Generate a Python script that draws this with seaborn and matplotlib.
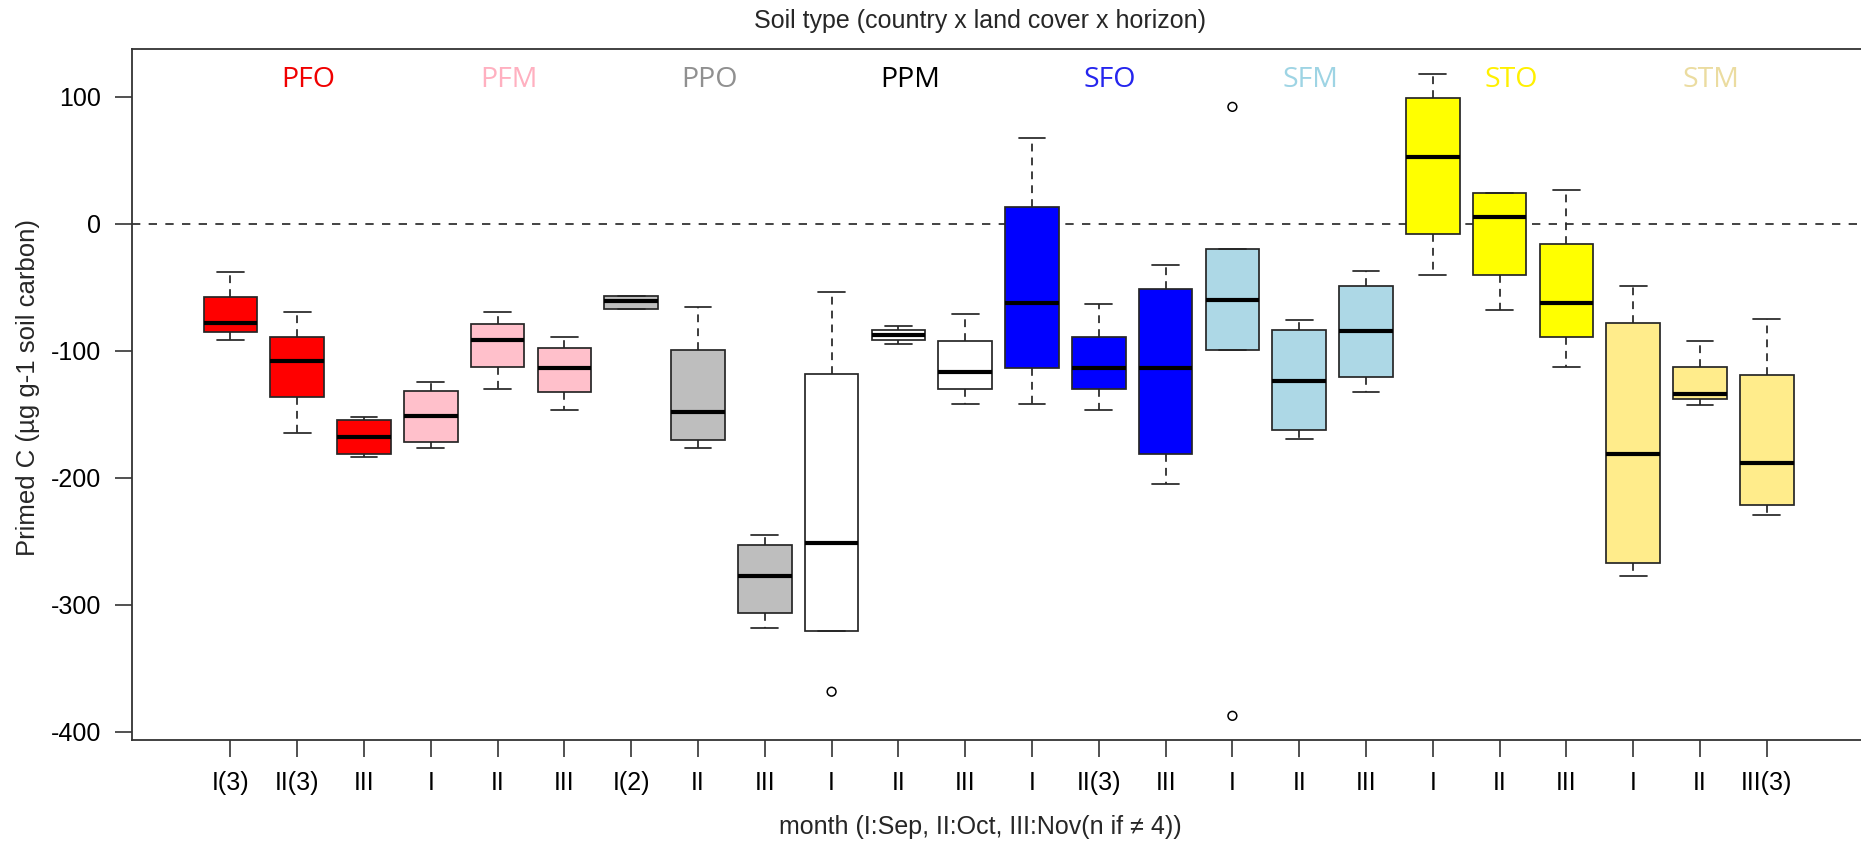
import numpy as np
import pandas as pd
import matplotlib
matplotlib.use("Agg")
import matplotlib.pyplot as plt
import seaborn as sns

# ---------------- data ----------------
groups = ["PFO", "PFM", "PPO", "PPM", "SFO", "SFM", "STO", "STM"]
box_colors = ["#FF0000", "#FFC0CB", "#BEBEBE", "#FFFFFF",
              "#0000FF", "#ADD8E6", "#FFFF00", "#FFEC8B"]
label_colors = ["#F00000", "#FFB0C0", "#909090", "#000000",
                "#2525EE", "#9ED4E4", "#FFF000", "#EBDCA0"]
month_labels = ["I(3)", "II(3)", "III", "I", "II", "III", "I(2)", "II", "III",
                "I", "II", "III", "I", "II(3)", "III", "I", "II", "III",
                "I", "II", "III", "I", "II", "III(3)"]

lower = [-91.6, -165.0, -183.7, -177.0, -130.4, -146.9, -67.2, -177.0, -318.1,
         -320.5, -94.7, -141.7, -141.7, -147.0, -204.7, -99.4, -169.5, -132.8,
         -40.4, -68.0, -112.6, -277.2, -142.8, -229.4]
q1 = [-85.0, -136.2, -181.6, -171.9, -112.8, -132.8, -67.2, -170.6, -306.3,
      -320.5, -91.6, -130.4, -113.9, -130.4, -181.6, -99.4, -162.7, -120.4,
      -8.1, -40.4, -89.5, -267.4, -138.0, -221.7]
median = [-78.2, -108.1, -168.0, -151.4, -91.6, -113.9, -60.9, -148.3, -277.2,
          -251.7, -87.6, -117.0, -62.7, -113.6, -113.6, -60.3, -123.6, -84.8,
          52.3, 5.3, -62.7, -181.6, -133.9, -188.2]
q3 = [-57.7, -89.2, -154.8, -131.5, -79.0, -98.1, -56.7, -99.4, -252.7,
      -118.1, -83.7, -92.6, 13.1, -89.2, -51.3, -20.2, -83.7, -49.0,
      98.7, 24.4, -15.7, -78.2, -112.6, -119.4]
upper = [-38.0, -69.3, -152.5, -124.6, -69.3, -89.5, -56.7, -65.9, -245.1,
         -53.5, -80.3, -71.4, 67.7, -63.5, -32.5, -20.2, -75.8, -37.0,
         117.9, 24.4, 26.3, -49.0, -92.6, -74.8]

outlier_box = [10, 16, 16]
outlier_value = [-368.5, 92.0, -387.5]

# ---------------- build long table ----------------
rows = []
for i in range(len(month_labels)):
    g = groups[i // 3]
    for v in (lower[i], q1[i], median[i], q3[i], upper[i]):
        rows.append({"box": i + 1, "group": g, "value": v})
df = pd.DataFrame(rows)
out_df = pd.DataFrame({"pos": np.array(outlier_box) - 1, "value": outlier_value})

# ---------------- figure ----------------
sns.set_theme(style="ticks")
plt.rcParams["font.family"] = ["Liberation Sans", "DejaVu Sans"]

W, H = 1861, 841
fig = plt.figure(figsize=(W / 100, H / 100), dpi=100)
ax_left, ax_right, ax_top, ax_bottom = 132, 1865, 48.5, 740
ax = fig.add_axes([ax_left / W, 1 - ax_bottom / H,
                   (ax_right - ax_left) / W, (ax_bottom - ax_top) / H])

edge = "#262626"
sns.boxplot(data=df, x="box", y="value", hue="group",
            palette=dict(zip(groups, box_colors)), hue_order=groups,
            dodge=False, width=0.8, whis=np.inf, saturation=1,
            linecolor=edge, linewidth=1.25, legend=False, ax=ax,
            medianprops=dict(color="black", linewidth=3.0, solid_capstyle="butt"),
            whiskerprops=dict(color=edge, linewidth=1.25, linestyle=(0, (4.5, 3.5))),
            capprops=dict(color=edge, linewidth=1.25, linestyle="-"),
            boxprops=dict(edgecolor=edge, linewidth=1.25))

sns.scatterplot(data=out_df, x="pos", y="value", ax=ax, s=40,
                facecolors="none", edgecolor="black", linewidth=1.1,
                marker="o", legend=False, zorder=5)

ax.axhline(0, color="#222222", linewidth=1.2, linestyle=(0, (5, 5)), zorder=0.5)

# group labels
for k, g in enumerate(groups):
    ax.text(3 * k + 1 + 0.17, 113, g, color=label_colors[k], ha="center",
            va="center", fontsize=20.5, family=["Open Sans", "DejaVu Sans"])

# axes scales
x0 = 230.4
dx = 66.8
ax.set_xlim((ax_left - x0) / dx, (ax_right - x0) / dx)
ax.set_ylim((223.7 - ax_bottom) / 1.27, (223.7 - ax_top) / 1.27)
ax.set_xticks(range(len(month_labels)))
ax.set_xticklabels(month_labels)
ax.set_yticks([100, 0, -100, -200, -300, -400])
ax.set_yticklabels(["100", "0", "-100", "-200", "-300", "-400"])
ax.set_xlabel("")
ax.set_ylabel("")

for s in ax.spines.values():
    s.set_visible(True)
    s.set_color("#333333")
    s.set_linewidth(1.3)
ax.tick_params(axis="both", direction="out", length=12.5, width=1.2,
               color="#333333", labelsize=18, pad=9.5, labelcolor="black")

# titles / axis labels
fig.text(980 / W, 1 - 21 / H, "Soil type (country x land cover x horizon)",
         ha="center", va="center", fontsize=18)
fig.text(980 / W, 1 - 827 / H, "month (I:Sep, II:Oct, III:Nov(n if \u2260 4))",
         ha="center", va="center", fontsize=18)
fig.text(28 / W, 1 - 387 / H, "Primed C (\u00b5g g-1 soil carbon)",
         ha="center", va="center", rotation=90, fontsize=18.5)

fig.savefig("out.png", dpi=100)
